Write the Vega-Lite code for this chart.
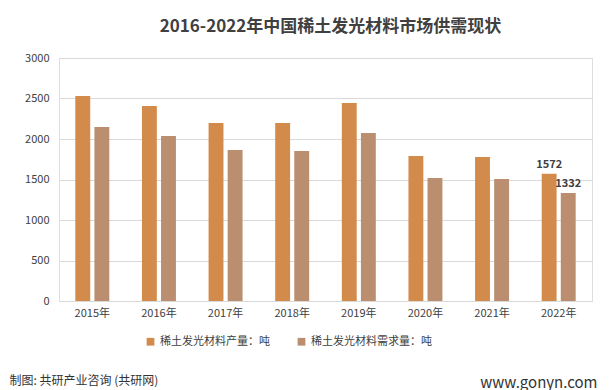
{
  "$schema": "https://vega.github.io/schema/vega-lite/v6.json",
  "width": 533,
  "height": 243,
  "autosize": {"type": "none"},
  "padding": {"left": 59, "top": 58, "right": 22, "bottom": 89},
  "background": "white",
  "title": {
    "text": "2016-2022年中国稀土发光材料市场供需现状",
    "font": "Noto Sans CJK SC",
    "fontSize": 17,
    "fontWeight": "bold",
    "color": "#404040",
    "anchor": "middle",
    "dx": 5,
    "offset": 16
  },
  "data": {
    "values": [
      {"year": "2015年", "series": "稀土发光材料产量：吨", "value": 2531},
      {"year": "2015年", "series": "稀土发光材料需求量：吨", "value": 2148},
      {"year": "2016年", "series": "稀土发光材料产量：吨", "value": 2407},
      {"year": "2016年", "series": "稀土发光材料需求量：吨", "value": 2037},
      {"year": "2017年", "series": "稀土发光材料产量：吨", "value": 2198},
      {"year": "2017年", "series": "稀土发光材料需求量：吨", "value": 1864},
      {"year": "2018年", "series": "稀土发光材料产量：吨", "value": 2198},
      {"year": "2018年", "series": "稀土发光材料需求量：吨", "value": 1852},
      {"year": "2019年", "series": "稀土发光材料产量：吨", "value": 2444},
      {"year": "2019年", "series": "稀土发光材料需求量：吨", "value": 2074},
      {"year": "2020年", "series": "稀土发光材料产量：吨", "value": 1790},
      {"year": "2020年", "series": "稀土发光材料需求量：吨", "value": 1519},
      {"year": "2021年", "series": "稀土发光材料产量：吨", "value": 1778},
      {"year": "2021年", "series": "稀土发光材料需求量：吨", "value": 1506},
      {"year": "2022年", "series": "稀土发光材料产量：吨", "value": 1572},
      {"year": "2022年", "series": "稀土发光材料需求量：吨", "value": 1332}
    ]
  },
  "encoding": {
    "x": {
      "field": "year",
      "type": "nominal",
      "sort": null,
      "scale": {"paddingInner": 0.49, "paddingOuter": 0.245},
      "axis": {
        "title": "制图: 共研产业咨询 (共研网)",
        "titleFont": "Noto Sans CJK SC",
        "titleFontSize": 12,
        "titleFontWeight": "normal",
        "titleColor": "#333333",
        "titleAnchor": "start",
        "titleAlign": "left",
        "titleX": -50,
        "titleY": 86,
        "titleBaseline": "bottom",
        "labelAngle": 0,
        "labelFont": "Noto Sans CJK SC",
        "labelFontSize": 11,
        "labelColor": "#404040",
        "labelPadding": 6,
        "domainColor": "#d9d9d9",
        "ticks": false
      }
    },
    "xOffset": {
      "field": "series",
      "type": "nominal",
      "scale": {"domain": ["稀土发光材料产量：吨", "稀土发光材料需求量：吨"], "paddingInner": 0.22}
    },
    "y": {
      "field": "value",
      "type": "quantitative",
      "scale": {"domain": [0, 3000]},
      "axis": {
        "values": [0, 500, 1000, 1500, 2000, 2500, 3000],
        "format": "d",
        "title": "www.gonyn.com",
        "titleAngle": 0,
        "titleFont": "Noto Sans CJK SC",
        "titleFontSize": 15,
        "titleFontWeight": "normal",
        "titleColor": "#333333",
        "titleAlign": "right",
        "titleBaseline": "bottom",
        "titleX": 538,
        "titleY": 332,
        "labelFont": "Noto Sans CJK SC",
        "labelFontSize": 11,
        "labelColor": "#404040",
        "labelPadding": 10,
        "domain": false,
        "ticks": false,
        "gridColor": "#d9d9d9"
      }
    }
  },
  "layer": [
    {
      "mark": {"type": "bar"},
      "encoding": {
        "color": {
          "field": "series",
          "type": "nominal",
          "scale": {"domain": ["稀土发光材料产量：吨", "稀土发光材料需求量：吨"], "range": ["#D38B4C", "#BA8E6E"]},
          "legend": {
            "title": null,
            "orient": "none",
            "direction": "horizontal",
            "legendX": 86,
            "legendY": 278,
            "symbolType": "square",
            "symbolSize": 60,
            "symbolStrokeWidth": 0,
            "labelFont": "Noto Sans CJK SC",
            "labelFontSize": 11,
            "labelColor": "#404040",
            "columnPadding": 26,
            "labelOffset": 4
          }
        }
      }
    },
    {
      "transform": [{"filter": "datum.year === '2022年'"}],
      "mark": {"type": "text", "dy": -9, "font": "Noto Sans CJK SC", "fontSize": 11, "fontWeight": "bold", "color": "#404040"},
      "encoding": {
        "text": {"field": "value", "type": "quantitative"}
      }
    }
  ]
}
